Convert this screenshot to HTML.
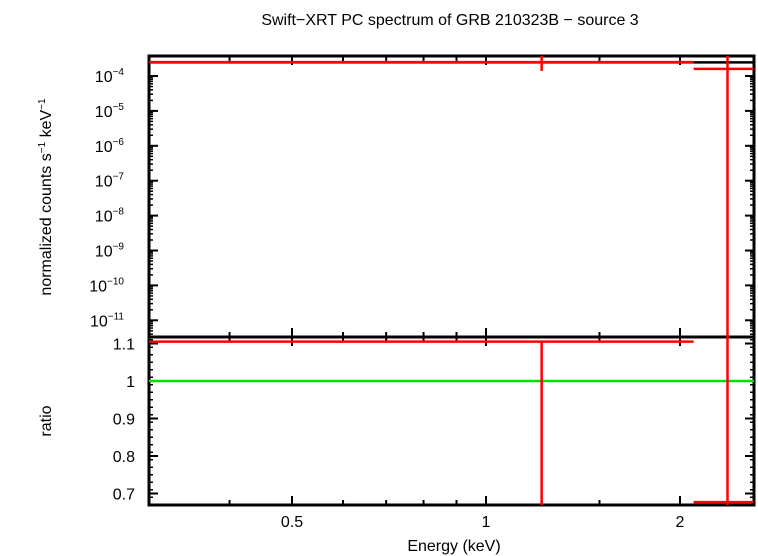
<!DOCTYPE html>
<html><head><meta charset="utf-8"><style>
body{margin:0;background:#fff}
svg{display:block;font-family:"Liberation Sans",sans-serif}
</style></head><body>
<svg id="c" width="758" height="556" viewBox="0 0 758 556">
<text x="450" y="25" font-size="16" text-anchor="middle">Swift−XRT PC spectrum of GRB 210323B − source 3</text>
<text transform="translate(51,197) rotate(-90)" font-size="16" text-anchor="middle">normalized counts s<tspan font-size="10" dy="-6">−1</tspan><tspan dy="6"> keV</tspan><tspan font-size="10" dy="-6">−1</tspan></text>
<text transform="translate(51,421) rotate(-90)" font-size="16" text-anchor="middle">ratio</text>
<text x="454" y="551" font-size="16" text-anchor="middle">Energy (keV)</text>
<g id="g"></g>
</svg>
<script>
const xTicks=[0.5,1,2];
const xMinor=[0.3,0.4,0.6,0.7,0.8,0.9,1.5];
const topTicks=[-4,-5,-6,-7,-8,-9,-10,-11];
const ratioTicks=[0.7,0.8,0.9,1,1.1];
const eLo=[0.30,2.1];
const eHi=[2.1,2.6];
const eMid=[1.22,2.37];
const rate=[2.5e-4,1.6e-4];
const rateErrLo=[1.4e-4,1e-12];
const rateErrHi=[4e-4,4e-4];
const ratio=[1.105,0.677];
const ratioLo=[0.6,0.6];
const ratioHi=[1.105,1.2];
const model=[2.45e-4,2.45e-4];
const L=149,R=754,T1=56,B1=337,B2=505;
const NS='http://www.w3.org/2000/svg';
const g=document.getElementById('g');
const xs=e=>292+Math.log2(e/0.5)*194;
const ys=v=>76+(-4-Math.log10(v))*34.9;
const yr=r=>381-(r-1)*375;
const clampT=y=>Math.max(T1,Math.min(B1,y));
const clampB=y=>Math.max(B1,Math.min(B2,y));
function el(t,a){const e=document.createElementNS(NS,t);for(const k in a)e.setAttribute(k,a[k]);g.appendChild(e);return e;}
let f=el('rect',{x:L,y:T1,width:R-L,height:B1-T1,fill:'none',stroke:'#000','stroke-width':3});


f=el('rect',{x:L,y:B1,width:R-L,height:B2-B1,fill:'none',stroke:'#000','stroke-width':3});


xTicks.concat(xMinor).forEach((v,i)=>{const x=xs(v);const len=i<xTicks.length?9:5;
[[T1,T1+len],[B1-len,B1+len],[B2-len,B2]].forEach(([a,b])=>{const t=el('line',{x1:x,x2:x,y1:a,y2:b,stroke:'#000','stroke-width':2});

});});
xTicks.forEach(v=>{const t=el('text',{x:xs(v),y:527,'font-size':16,'text-anchor':'middle'});t.textContent=String(v);

});
topTicks.forEach(p=>{const y=ys(Math.pow(10,p));
[[L,L+9],[R-9,R]].forEach(([a,b])=>{const t=el('line',{x1:a,x2:b,y1:y,y2:y,stroke:'#000','stroke-width':2});

});
for(let m=2;m<10;m++){const ym=ys(m*Math.pow(10,p-1));if(ym>B1||ym<T1)continue;[[L,L+4],[R-4,R]].forEach(([a,b])=>{const t=el('line',{x1:a,x2:b,y1:ym,y2:ym,stroke:'#000','stroke-width':1.5});

});}
const t=el('text',{x:124,y:y+6,'font-size':16,'text-anchor':'end'});t.innerHTML='10<tspan font-size="10" dy="-7">'+(p<0?'−':'')+Math.abs(p)+'</tspan>';

});
ratioTicks.forEach(v=>{const y=yr(v);
[[L,L+9],[R-9,R]].forEach(([a,b])=>{const t=el('line',{x1:a,x2:b,y1:y,y2:y,stroke:'#000','stroke-width':2});

});
const t=el('text',{x:135,y:y+6,'font-size':16,'text-anchor':'end'});t.textContent=String(v);

});
for(let v=0.67;v<1.12;v+=0.02){const y=yr(v);[[L,L+4],[R-4,R]].forEach(([a,b])=>{const t=el('line',{x1:a,x2:b,y1:y,y2:y,stroke:'#000','stroke-width':1.5});

});}
eLo.forEach((lo,i)=>{const t=el('line',{x1:xs(lo),x2:xs(eHi[i]),y1:ys(model[i]),y2:ys(model[i]),stroke:'#000','stroke-width':2.5});

});
let u=el('line',{x1:L,x2:R,y1:yr(1),y2:yr(1),stroke:'#00e000','stroke-width':2.5});


eMid.forEach((m,i)=>{
let a=el('line',{x1:xs(eLo[i]),x2:Math.min(R,xs(eHi[i])),y1:clampT(ys(rate[i])),y2:clampT(ys(rate[i])),stroke:'#f00','stroke-width':2.5});


a=el('line',{x1:xs(m),x2:xs(m),y1:clampT(ys(rateErrHi[i])),y2:clampT(ys(rateErrLo[i])),stroke:'#f00','stroke-width':2.5});


a=el('line',{x1:xs(eLo[i]),x2:Math.min(R,xs(eHi[i])),y1:clampB(yr(ratio[i])),y2:clampB(yr(ratio[i])),stroke:'#f00','stroke-width':2.5});


a=el('line',{x1:xs(m),x2:xs(m),y1:clampB(yr(ratioHi[i])),y2:clampB(yr(ratioLo[i])),stroke:'#f00','stroke-width':2.5});


});
</script>
</body></html>
